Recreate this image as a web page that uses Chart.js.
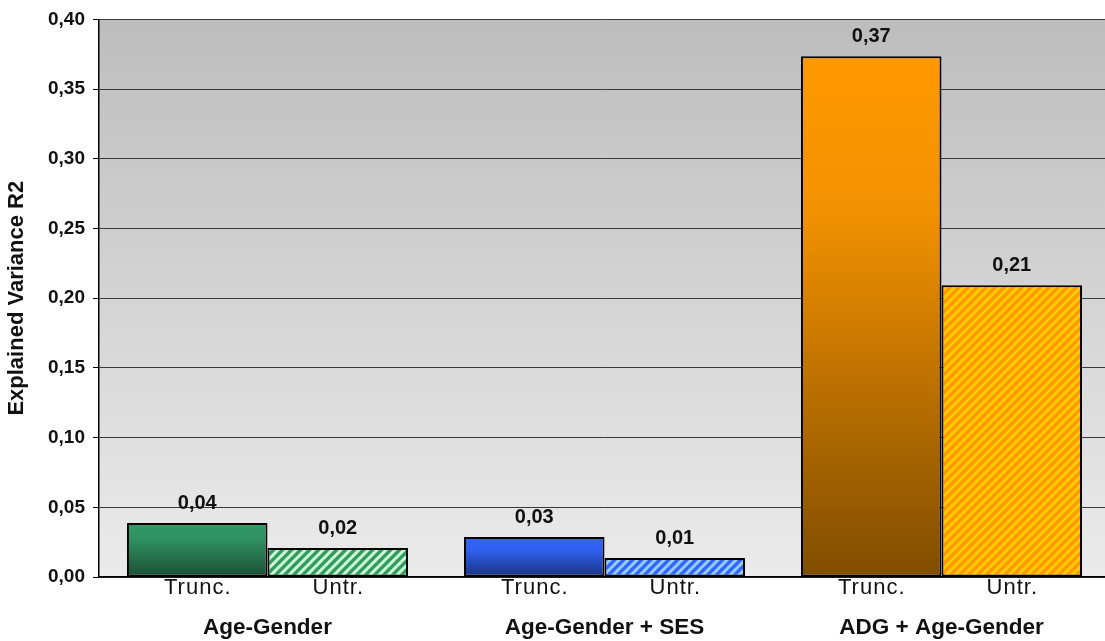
<!DOCTYPE html>
<html>
<head>
<meta charset="utf-8">
<script src="https://cdn.jsdelivr.net/npm/chart.js@4/dist/chart.umd.min.js"></script>
<style>
  html, body { margin: 0; padding: 0; background: #ffffff; overflow: hidden; }
  #wrap { width: 1112px; height: 641px; }
</style>
</head>
<body>
<div id="wrap"><canvas id="chart" width="1112" height="641"></canvas></div>
<script>
// Model groups and the two estimation variants
const groups = ['Age-Gender', 'Age-Gender + SES', 'ADG + Age-Gender'];
const seriesNames = ['Trunc.', 'Untr.'];
const truncValues = [0.0387, 0.0287, 0.3735];
const untrValues = [0.0208, 0.0136, 0.2093];
const yTickValues = [0, 0.05, 0.10, 0.15, 0.20, 0.25, 0.30, 0.35, 0.40];
const yTitle = 'Explained Variance R2';

// Fill colours per group: solid base, stripe colour for the hatched bars
const baseColors = ['#339966', '#3366ff', '#ff9900'];
const stripeColors = ['#ccffcc', '#99ccff', '#ffcc00'];

const FONT = "'Liberation Sans', Arial, sans-serif";

function fmt(v) {
  return v.toFixed(2).replace('.', ',');
}

function shade(hex, f) {
  const n = parseInt(hex.slice(1), 16);
  const r = Math.round(((n >> 16) & 255) * f);
  const g = Math.round(((n >> 8) & 255) * f);
  const b = Math.round((n & 255) * f);
  return `rgb(${r},${g},${b})`;
}

function stripePattern(base, line) {
  const s = 9;
  const c = document.createElement('canvas');
  c.width = s; c.height = s;
  const g = c.getContext('2d');
  g.fillStyle = base;
  g.fillRect(0, 0, s, s);
  g.strokeStyle = line;
  g.lineWidth = 3;
  g.beginPath();
  g.moveTo(-2, s + 2); g.lineTo(s + 2, -2);
  g.moveTo(-2, 2); g.lineTo(2, -2);
  g.moveTo(s - 2, s + 2); g.lineTo(s + 2, s - 2);
  g.stroke();
  return g.createPattern(c, 'repeat');
}
const patterns = baseColors.map((b, i) => stripePattern(b, stripeColors[i]));

// Vertical fade from the base colour at the bar top to a darker tone at the base
function barGradient(ctx) {
  const chart = ctx.chart;
  const i = ctx.dataIndex;
  if (!chart.chartArea || ctx.type !== 'data') return baseColors[i];
  const ys = chart.scales.y;
  const top = ys.getPixelForValue(ctx.raw);
  const bottom = ys.getPixelForValue(0);
  if (!isFinite(top) || !isFinite(bottom) || bottom - top < 1) return baseColors[i];
  const g = chart.ctx.createLinearGradient(0, top, 0, bottom);
  g.addColorStop(0, baseColors[i]);
  g.addColorStop(0.3, shade(baseColors[i], 0.95));
  g.addColorStop(1, shade(baseColors[i], 0.5));
  return g;
}

// Grey plot-area backdrop
const plotBackground = {
  id: 'plotBackground',
  beforeDraw(chart) {
    const { ctx, chartArea: a } = chart;
    const g = ctx.createLinearGradient(0, a.top, 0, a.bottom);
    g.addColorStop(0, '#bdbdbd');
    g.addColorStop(1, '#ebebeb');
    ctx.save();
    ctx.fillStyle = g;
    ctx.fillRect(a.left, a.top, a.right - a.left, a.bottom - a.top);
    ctx.restore();
  }
};

// Value labels above bars and variant names under each bar
const barLabels = {
  id: 'barLabels',
  afterDatasetsDraw(chart) {
    const { ctx } = chart;
    ctx.save();
    chart.data.datasets.forEach((ds, di) => {
      const meta = chart.getDatasetMeta(di);
      meta.data.forEach((bar, i) => {
        ctx.fillStyle = '#111111';
        ctx.textAlign = 'center';
        ctx.textBaseline = 'alphabetic';
        ctx.font = `bold 20px ${FONT}`;
        ctx.letterSpacing = '0px';
        ctx.fillText(fmt(ds.data[i]), bar.x, bar.y - 14);

        ctx.font = `22px ${FONT}`;
        ctx.letterSpacing = '1px';
        ctx.textBaseline = 'middle';
        ctx.fillText(ds.label, bar.x + 0.5, chart.chartArea.bottom + 11);
      });
    });
    ctx.restore();
  }
};

new Chart(document.getElementById('chart'), {
  type: 'bar',
  data: {
    labels: groups,
    datasets: [
      {
        label: seriesNames[0],
        data: truncValues,
        backgroundColor: barGradient,
        borderColor: '#000000',
        borderWidth: 2,
        borderSkipped: false
      },
      {
        label: seriesNames[1],
        data: untrValues,
        backgroundColor: patterns,
        borderColor: '#000000',
        borderWidth: 2,
        borderSkipped: false
      }
    ]
  },
  options: {
    responsive: false,
    devicePixelRatio: 1,
    animation: false,
    layout: { padding: { top: 19, right: 2, left: 0, bottom: 0 } },
    datasets: { bar: { barPercentage: 1, categoryPercentage: 0.834 } },
    plugins: {
      legend: { display: false },
      tooltip: { enabled: false }
    },
    scales: {
      x: {
        grid: { display: false, drawTicks: false, tickLength: 0 },
        border: { display: true, color: '#000000', width: 1.5 },
        ticks: {
          color: '#111111',
          font: { family: FONT, size: 22.5, weight: 'bold' },
          padding: 37,
          maxRotation: 0
        },
        afterFit(scale) { scale.height = 64; }
      },
      y: {
        min: 0,
        max: 0.4,
        afterBuildTicks(scale) {
          scale.ticks = yTickValues.map(v => ({ value: v }));
        },
        grid: {
          color: '#3a3a3a',
          lineWidth: 1,
          drawTicks: true,
          tickLength: 6,
          tickColor: '#000000'
        },
        border: { display: true, color: '#000000', width: 1.5 },
        ticks: {
          color: '#111111',
          font: { family: FONT, size: 19, weight: 'bold' },
          padding: 8,
          callback: (v) => fmt(v)
        },
        title: {
          display: true,
          text: yTitle,
          color: '#111111',
          font: { family: FONT, size: 22, weight: 'bold' },
          padding: { top: 4, bottom: 0 }
        },
        afterFit(scale) { scale.width = 99; }
      }
    }
  },
  plugins: [plotBackground, barLabels]
});
</script>
</body>
</html>
